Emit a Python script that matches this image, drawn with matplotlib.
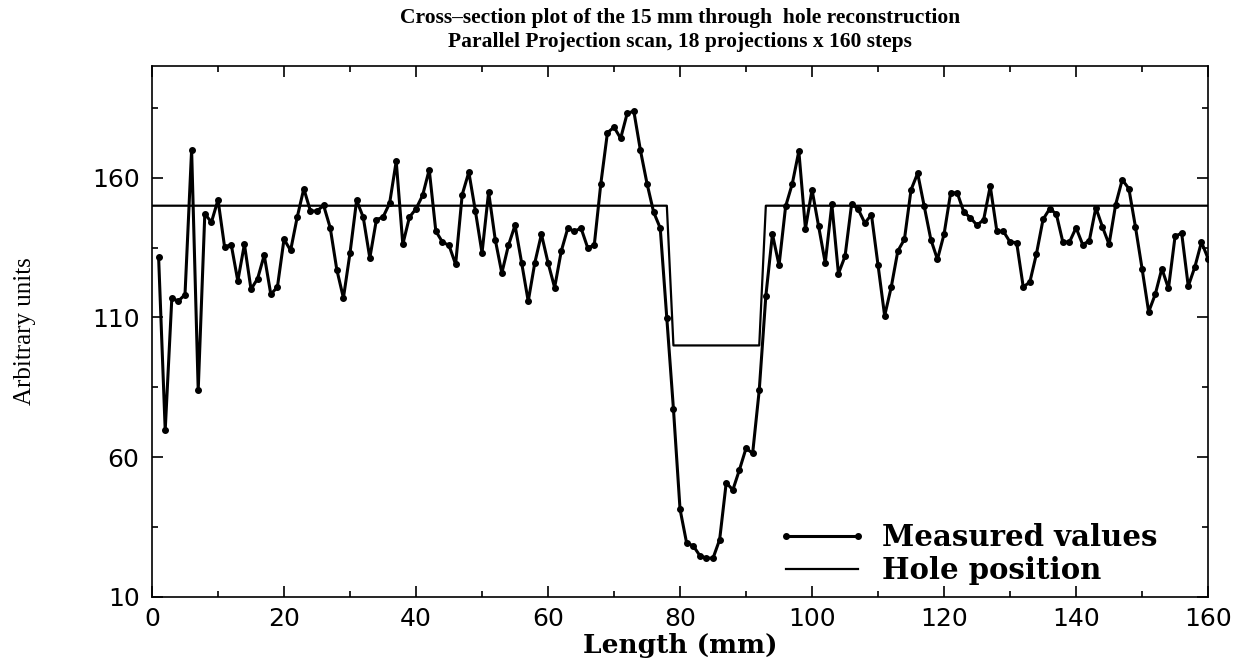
#!/usr/bin/env python3

import numpy as np
from matplotlib import pyplot as plt
from matplotlib.ticker import MultipleLocator

length_mm = np.arange(1, 161)
measured = [
    131.6, 69.7, 116.8, 115.9, 118.2, 170.0, 84.0, 147.1, 144.1, 152.1,
    135.2, 136.1, 123.1, 136.2, 120.1, 123.9, 132.3, 118.3, 120.9, 138.0,
    134.0, 145.9, 156.1, 148.1, 148.1, 150.1, 142.1, 127.1, 117.0, 133.1,
    151.9, 145.9, 131.3, 145.0, 145.9, 150.9, 165.9, 136.2, 145.9, 148.9,
    153.7, 162.9, 140.9, 137.0, 135.8, 129.0, 154.0, 162.0, 148.0, 133.1,
    154.9, 137.9, 125.9, 135.8, 143.0, 129.6, 115.8, 129.6, 139.8, 129.6,
    120.7, 133.7, 142.0, 140.8, 142.0, 135.0, 135.8, 157.9, 176.1, 178.1,
    174.1, 183.1, 183.8, 169.8, 157.9, 147.7, 142.0, 109.9, 77.3, 41.4,
    29.3, 28.3, 24.8, 23.9, 23.9, 30.5, 50.9, 48.3, 55.5, 63.2,
    61.4, 84.0, 117.7, 139.8, 128.7, 149.8, 157.8, 169.5, 141.8, 155.7,
    142.6, 129.5, 150.5, 125.7, 131.9, 150.7, 148.7, 143.8, 146.8, 128.8,
    110.6, 120.9, 133.8, 138.0, 155.7, 161.6, 149.8, 137.9, 130.8, 139.8,
    154.6, 154.6, 147.7, 145.7, 143.0, 145.0, 157.0, 140.9, 140.8, 137.0,
    136.8, 120.9, 122.7, 132.8, 145.1, 148.9, 147.1, 137.0, 137.0, 142.1,
    136.1, 137.4, 149.3, 142.4, 136.2, 150.4, 159.3, 156.1, 142.4, 127.5,
    112.0, 118.3, 127.5, 120.4, 139.0, 140.2, 121.2, 128.1, 137.0, 131.1,
]

# Nominal hole profile
hole_x = [0, 78, 79, 92, 93, 160]
hole_y = [150, 150, 100, 100, 150, 150]

serif = 'Liberation Serif'
wide_serif = 'DejaVu Serif'
sans = 'DejaVu Sans'

fig = plt.figure(figsize=(12.48, 6.65), dpi=100)
ax = fig.add_axes([0.1218, 0.1023, 0.8462, 0.7985])

ax.plot(length_mm, measured, color='black', linewidth=2.2,
        marker='o', markersize=4, label='Measured values')
ax.plot(hole_x, hole_y, color='black', linewidth=1.6, label='Hole position')

ax.set_xlim(0, 160)
ax.set_ylim(10, 200)
ax.xaxis.set_major_locator(MultipleLocator(20))
ax.xaxis.set_minor_locator(MultipleLocator(10))
ax.set_yticks([10, 60, 110, 160])
ax.set_yticks([35, 85, 135, 185], minor=True)

ax.tick_params(which='both', direction='in', top=True, right=True, width=1.2)
ax.tick_params(which='major', length=8, labelsize=18)
ax.tick_params(axis='y', which='major', pad=9)
ax.tick_params(axis='x', which='major', pad=7)
ax.tick_params(which='minor', length=4)
for lab in ax.get_xticklabels() + ax.get_yticklabels():
    lab.set_fontfamily(sans)
for s in ax.spines.values():
    s.set_linewidth(1.2)

ax.set_xlabel('Length (mm)', fontfamily=wide_serif, fontweight='bold', fontsize=19, labelpad=2)
ax.set_ylabel('Arbitrary units', fontfamily=serif, fontsize=18)
ax.yaxis.set_label_coords(-0.110, 0.5)

fig.text(0.545, 0.988, 'Cross\u2013section plot of the 15 mm through  hole reconstruction\n'
         'Parallel Projection scan, 18 projections x 160 steps',
         ha='center', va='top', fontfamily=serif, fontweight='bold',
         fontsize=15.5, linespacing=1.3)

ax.legend(loc='lower right', bbox_to_anchor=(0.963, 0.0), borderaxespad=0,
          frameon=False, numpoints=2, handlelength=3.1, handletextpad=0.5,
          labelspacing=0.15,
          prop={'family': wide_serif, 'weight': 'bold', 'size': 21})

fig.savefig('out.png', dpi=100)
